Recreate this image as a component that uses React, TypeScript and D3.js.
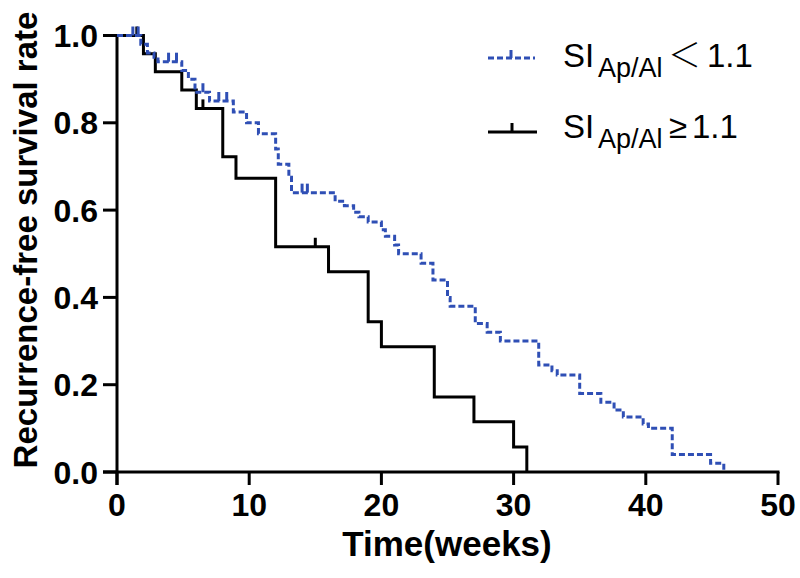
import React from "react";
import * as d3 from "d3";

// ---- data ----
const xTicks = [0, 10, 20, 30, 40, 50];
const yTicks = [0.0, 0.2, 0.4, 0.6, 0.8, 1.0];

// SI Ap/Al >= 1.1 (black): [time (weeks), survival after event]
const highTimes = [2.0, 2.9, 4.9, 6.0, 8.0, 9.0, 12.0, 16.0, 19.0, 20.0, 24.0, 27.0, 30.0, 31.0];
const highSurv = [0.958, 0.917, 0.875, 0.833, 0.722, 0.673, 0.516, 0.459, 0.344, 0.287, 0.172, 0.115, 0.057, 0.0];
const highCensorTimes = [1.5, 6.5, 15.0];

// SI Ap/Al < 1.1 (blue dashed)
const lowTimes = [1.8, 2.3, 2.8, 3.1, 4.9, 5.4, 5.9, 7.0, 8.8, 9.8, 10.7, 12.0, 12.2, 13.0, 13.2, 16.5, 17.2, 17.9, 18.3, 19.0, 20.0, 20.3, 21.0, 21.3, 23.0, 23.9, 25.0, 25.2, 27.1, 28.0, 29.0, 31.9, 32.9, 33.3, 35.0, 36.6, 37.6, 38.3, 39.8, 40.2, 42.0, 44.9, 45.9];
const lowSurv = [0.98, 0.96, 0.95, 0.94, 0.92, 0.90, 0.87, 0.85, 0.825, 0.80, 0.775, 0.74, 0.705, 0.675, 0.64, 0.62, 0.61, 0.595, 0.585, 0.573, 0.555, 0.54, 0.52, 0.50, 0.478, 0.44, 0.40, 0.38, 0.34, 0.32, 0.30, 0.245, 0.232, 0.222, 0.18, 0.16, 0.142, 0.126, 0.11, 0.10, 0.04, 0.02, 0.0];
const lowCensorTimes = [1.2, 1.6, 3.9, 4.5, 6.5, 7.7, 8.3, 14.0, 14.4];

const BLUE = "#2f4fb5";
const FONT = "Arial, 'Liberation Sans', Helvetica, sans-serif";

function survAt(times: number[], surv: number[], t: number) {
  let v = 1;
  for (let i = 0; i < times.length; i++) if (times[i] <= t) v = surv[i];
  return v;
}

export default function App() {
  const W = 800, H = 578;
  const x = d3.scaleLinear().domain([0, 50]).range([117, 778]);
  const y = d3.scaleLinear().domain([0, 1]).range([472, 35.5]);
  const line = d3
    .line<[number, number]>()
    .x((d) => x(d[0]))
    .y((d) => y(d[1]))
    .curve(d3.curveStepAfter);

  const highPts: [number, number][] = [[0, 1], ...highTimes.map((t, i) => [t, highSurv[i]] as [number, number])];
  const lowPts: [number, number][] = [[0, 1], ...lowTimes.map((t, i) => [t, lowSurv[i]] as [number, number])];

  const tickH = 9;

  return (
    <svg width={W} height={H} style={{ position: "absolute", left: 0, top: 0, background: "#fff" }}>
      {/* axes */}
      <g stroke="#000" strokeWidth={3} fill="none">
        <line x1={x(0)} x2={x(0)} y1={y(1) - 1.5} y2={y(0) + 13} />
        <line x1={x(0) - 14} x2={x(50) + 1.5} y1={y(0)} y2={y(0)} />
        {yTicks.map((t) => (
          <line key={"yt" + t} x1={x(0) - 14} x2={x(0)} y1={y(t)} y2={y(t)} />
        ))}
        {xTicks.map((t) => (
          <line key={"xt" + t} x1={x(t)} x2={x(t)} y1={y(0)} y2={y(0) + 13} />
        ))}
      </g>
      {/* tick labels */}
      <g fontFamily={FONT} fontWeight="bold" fontSize={32} fill="#000">
        {yTicks.map((t) => (
          <text key={"yl" + t} x={x(0) - 19} y={y(t)} dy="0.36em" textAnchor="end">
            {t.toFixed(1)}
          </text>
        ))}
        {xTicks.map((t) => (
          <text key={"xl" + t} x={x(t)} y={y(0) + 44} textAnchor="middle">
            {t}
          </text>
        ))}
      </g>
      {/* axis titles */}
      <text
        x={447}
        y={556}
        textAnchor="middle"
        fontFamily={FONT}
        fontWeight="bold"
        fontSize={35}
      >
        Time(weeks)
      </text>
      <text
        transform="translate(37,240) rotate(-90)"
        textAnchor="middle"
        fontFamily={FONT}
        fontWeight="bold"
        fontSize={33}
      >
        Recurrence-free survival rate
      </text>

      {/* curves */}
      <path d={line(highPts) || ""} stroke="#000" strokeWidth={3} fill="none" />
      {highCensorTimes.map((t, i) => {
        const v = survAt(highTimes, highSurv, t);
        return <line key={"hc" + i} x1={x(t)} x2={x(t)} y1={y(v)} y2={y(v) - tickH} stroke="#000" strokeWidth={3} />;
      })}
      <path d={line(lowPts) || ""} stroke={BLUE} strokeWidth={3} strokeDasharray="6,3" fill="none" />
      {lowCensorTimes.map((t, i) => {
        const v = survAt(lowTimes, lowSurv, t);
        return <line key={"lc" + i} x1={x(t)} x2={x(t)} y1={y(v)} y2={y(v) - tickH} stroke={BLUE} strokeWidth={3} />;
      })}

      {/* legend */}
      <g>
        <line x1={488} x2={535} y1={58} y2={58} stroke={BLUE} strokeWidth={3} strokeDasharray="6,3" />
        <line x1={511} x2={511} y1={58} y2={50} stroke={BLUE} strokeWidth={3} />
        <text fontFamily={FONT} fontSize={33} fill="#000" y={67}>
          <tspan x={563}>SI</tspan>
          <tspan x={598} dy={10} fontSize={27}>Ap/Al</tspan>
          <tspan x={668} dy={-10} fontFamily="'Noto Sans CJK SC', sans-serif" fontWeight={300}>＜</tspan>
          <tspan x={707}>1.1</tspan>
        </text>
        <line x1={488} x2={537} y1={132} y2={132} stroke="#000" strokeWidth={3} />
        <line x1={512} x2={512} y1={132} y2={123} stroke="#000" strokeWidth={3} />
        <text fontFamily={FONT} fontSize={33} fill="#000" y={138}>
          <tspan x={563}>SI</tspan>
          <tspan x={598} dy={10} fontSize={27}>Ap/Al</tspan>
          <tspan x={669} dy={-10}>≥</tspan>
          <tspan x={692}>1.1</tspan>
        </text>
      </g>
    </svg>
  );
}
